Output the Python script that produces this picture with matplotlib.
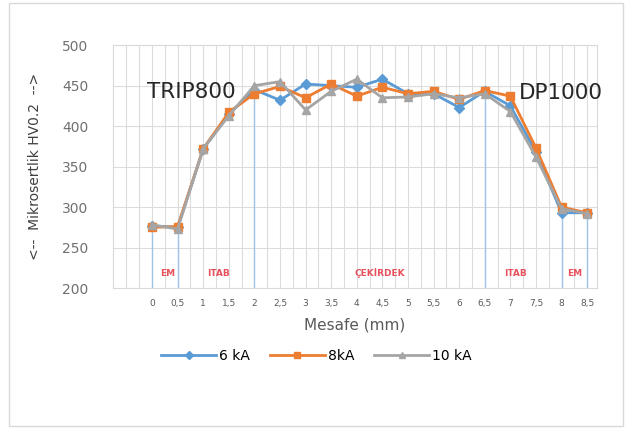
import numpy as np
import matplotlib
matplotlib.use("Agg")
import matplotlib.pyplot as plt
from matplotlib.patches import Rectangle

# distance (mm) and tick labels
mesafe = [0, 0.5, 1, 1.5, 2, 2.5, 3, 3.5, 4, 4.5, 5, 5.5, 6, 6.5, 7, 7.5, 8, 8.5]
tick_labels = ["0", "0,5", "1", "1,5", "2", "2,5", "3", "3,5", "4", "4,5",
               "5", "5,5", "6", "6,5", "7", "7,5", "8", "8,5"]

# hardness HV0.2
hv_6ka = [277, 275, 372, 415, 445, 432, 452, 450, 448, 458,
          440, 440, 423, 443, 425, 368, 293, 293]
hv_8ka = [275, 276, 372, 417, 440, 449, 435, 452, 437, 448,
          440, 443, 433, 444, 437, 373, 300, 293]
hv_10ka = [278, 273, 372, 413, 450, 455, 420, 443, 458, 435,
           436, 440, 435, 440, 418, 362, 298, 292]

# zone boundaries (drop lines) and zone labels
boundary_x = [0, 0.5, 2, 6.5, 8, 8.5]
boundary_top = [277, 276, 445, 444, 300, 293]
zone_names = ["EM", "ITAB", "ÇEKİRDEK", "ITAB", "EM"]
zone_x = [0.3, 1.3, 4.45, 7.1, 8.25]

fig = plt.figure(figsize=(6.25, 4.3), dpi=100)
fig.patches.append(Rectangle((9 / 625, 1 - 426 / 430), 614 / 625, 423 / 430,
                             transform=fig.transFigure, fill=False,
                             edgecolor="#d9d9d9", linewidth=1.0))
ax = fig.add_axes([0.181, 0.330, 0.774, 0.565])

# light grid every 0.25 mm
for gx in np.arange(-0.5, 8.76, 0.25):
    ax.axvline(gx, color="#dcdcdc", linewidth=0.8, zorder=0)
for gy in range(250, 500, 50):
    ax.axhline(gy, color="#dcdcdc", linewidth=0.8, zorder=0)

for bx, bt in zip(boundary_x, boundary_top):
    ax.plot([bx, bx], [200, bt], color="#9dc3e6", linewidth=1.0, zorder=1)

ax.plot(mesafe, hv_6ka, color="#5b9bd5", marker="D", markersize=5,
        linewidth=2.0, label="6 kA", zorder=3)
ax.plot(mesafe, hv_8ka, color="#ed7d31", marker="s", markersize=6,
        linewidth=2.0, label="8kA", zorder=4)
ax.plot(mesafe, hv_10ka, color="#a5a5a5", marker="^", markersize=6,
        linewidth=2.0, label="10 kA", zorder=5)

for name, zx in zip(zone_names, zone_x):
    ax.text(zx, 218, name, color="#e8505b", fontsize=6.5, fontweight="bold",
            ha="center", va="center", zorder=6)

ax.text(-0.1, 442, "TRIP800", fontsize=15.5, color="#262626", ha="left",
        va="center", zorder=6)
ax.text(7.17, 441, "DP1000", fontsize=15.5, color="#262626", ha="left",
        va="center", zorder=6)

ax.set_xlim(-0.76, 8.69)
ax.set_ylim(200, 500)
ax.set_yticks(range(200, 501, 50))
ax.set_xticks(mesafe)
ax.set_xticklabels(tick_labels)
ax.tick_params(axis="x", labelsize=6.5, colors="#595959", length=0, pad=8)
ax.tick_params(axis="y", labelsize=10, colors="#707070", length=0, pad=18)
for side in ["top", "right", "bottom", "left"]:
    ax.spines[side].set_color("#d9d9d9")

ax.set_xlabel("Mesafe (mm)", fontsize=11, color="#595959", labelpad=7)
ax.set_ylabel("<--  Mikrosertlik HV0.2  -->", fontsize=10, color="#404040",
              labelpad=14)

ax.legend(loc="upper center", bbox_to_anchor=(0.42, -0.2), ncol=3,
          frameon=False, fontsize=10, handlelength=4.0, columnspacing=1.4,
          handletextpad=0.2, markerscale=0.75)

fig.savefig("out.png", dpi=100)
